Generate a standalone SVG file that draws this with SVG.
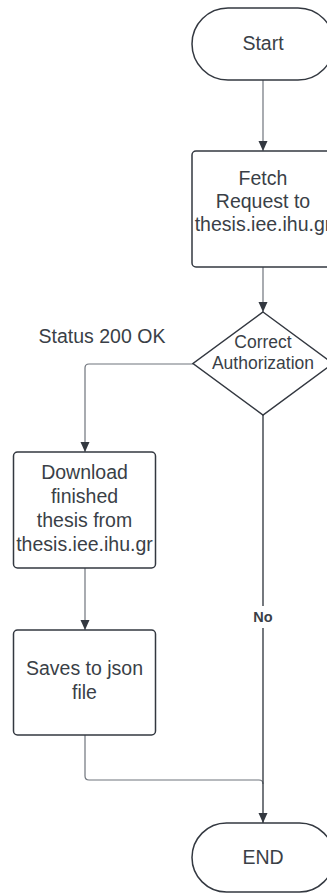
<svg xmlns="http://www.w3.org/2000/svg" width="327" height="894" viewBox="0 0 327 894">
<defs>
<style>
.shape{fill:#ffffff;stroke:#333840;stroke-width:1.5}
.lbl{font-family:"Liberation Sans",Arial,sans-serif;font-size:19.5px;fill:#3a3f47;text-anchor:middle;dominant-baseline:central}
.lbl-s{font-family:"Liberation Sans",Arial,sans-serif;font-size:17.5px;fill:#3a3f47;text-anchor:middle;dominant-baseline:central}
.edge{fill:none;stroke:#6f747c;stroke-width:1.2}
.edge-dark{fill:none;stroke:#3a3f47;stroke-width:1.4}
.elbl{font-family:"Liberation Sans",Arial,sans-serif;font-size:19.5px;fill:#3a3f47;text-anchor:middle;dominant-baseline:central}
.elbl-b{font-family:"Liberation Sans",Arial,sans-serif;font-size:14.5px;font-weight:bold;fill:#3a3f47;text-anchor:middle;dominant-baseline:central}
</style>
<marker id="arr" viewBox="0 0 10 10" refX="10" refY="5" markerWidth="10" markerHeight="10" markerUnits="userSpaceOnUse" orient="auto">
<path d="M0,0.5 L10,5 L0,9.5 Z" fill="#333840"/>
</marker>
</defs>
<rect width="327" height="894" fill="#ffffff"/>
<g id="connectors">
<path class="edge" d="M263,80 V151" marker-end="url(#arr)"/>
<path class="edge" d="M263,267 V312" marker-end="url(#arr)"/>
<path class="edge" d="M193,364 H89 Q85,364 85,368 V452" marker-end="url(#arr)"/>
<text class="elbl" x="102" y="336">Status 200 OK</text>
<path class="edge" d="M85,568 V630" marker-end="url(#arr)"/>
<path class="edge" d="M85,735 V776 Q85,780 89,780 H259 Q263,780 263,784"/>
<path class="edge-dark" d="M263,415 V823" marker-end="url(#arr)"/>
<rect x="250" y="606" width="26" height="22" fill="#ffffff"/>
<text class="elbl-b" x="263" y="617">No</text>
</g>
<g id="start">
<rect class="shape" x="192" y="8" width="142" height="72" rx="36" ry="36"/>
<text class="lbl" x="263" y="43">Start</text>
</g>
<g id="fetch">
<rect class="shape" x="192" y="151" width="142" height="116" rx="4" ry="4"/>
<text class="lbl" x="263" y="178">Fetch</text>
<text class="lbl" x="263" y="201">Request to</text>
<text class="lbl" x="263" y="224">thesis.iee.ihu.gr</text>
</g>
<g id="auth">
<polygon class="shape" points="263,312 333,363.5 263,415 193,363.5"/>
<text class="lbl-s" x="263" y="342">Correct</text>
<text class="lbl-s" x="263" y="363">Authorization</text>
</g>
<g id="download">
<rect class="shape" x="13.5" y="452" width="142" height="116" rx="4" ry="4"/>
<text class="lbl" x="84.5" y="472">Download</text>
<text class="lbl" x="84.5" y="496">finished</text>
<text class="lbl" x="84.5" y="520">thesis from</text>
<text class="lbl" x="84.5" y="544">thesis.iee.ihu.gr</text>
</g>
<g id="saves">
<rect class="shape" x="13.5" y="630" width="142" height="105" rx="4" ry="4"/>
<text class="lbl" x="84.5" y="668">Saves to json</text>
<text class="lbl" x="84.5" y="692">file</text>
</g>
<g id="end">
<rect class="shape" x="192" y="823" width="142" height="69" rx="34.5" ry="34.5"/>
<text class="lbl" x="263" y="857">END</text>
</g>
</svg>
